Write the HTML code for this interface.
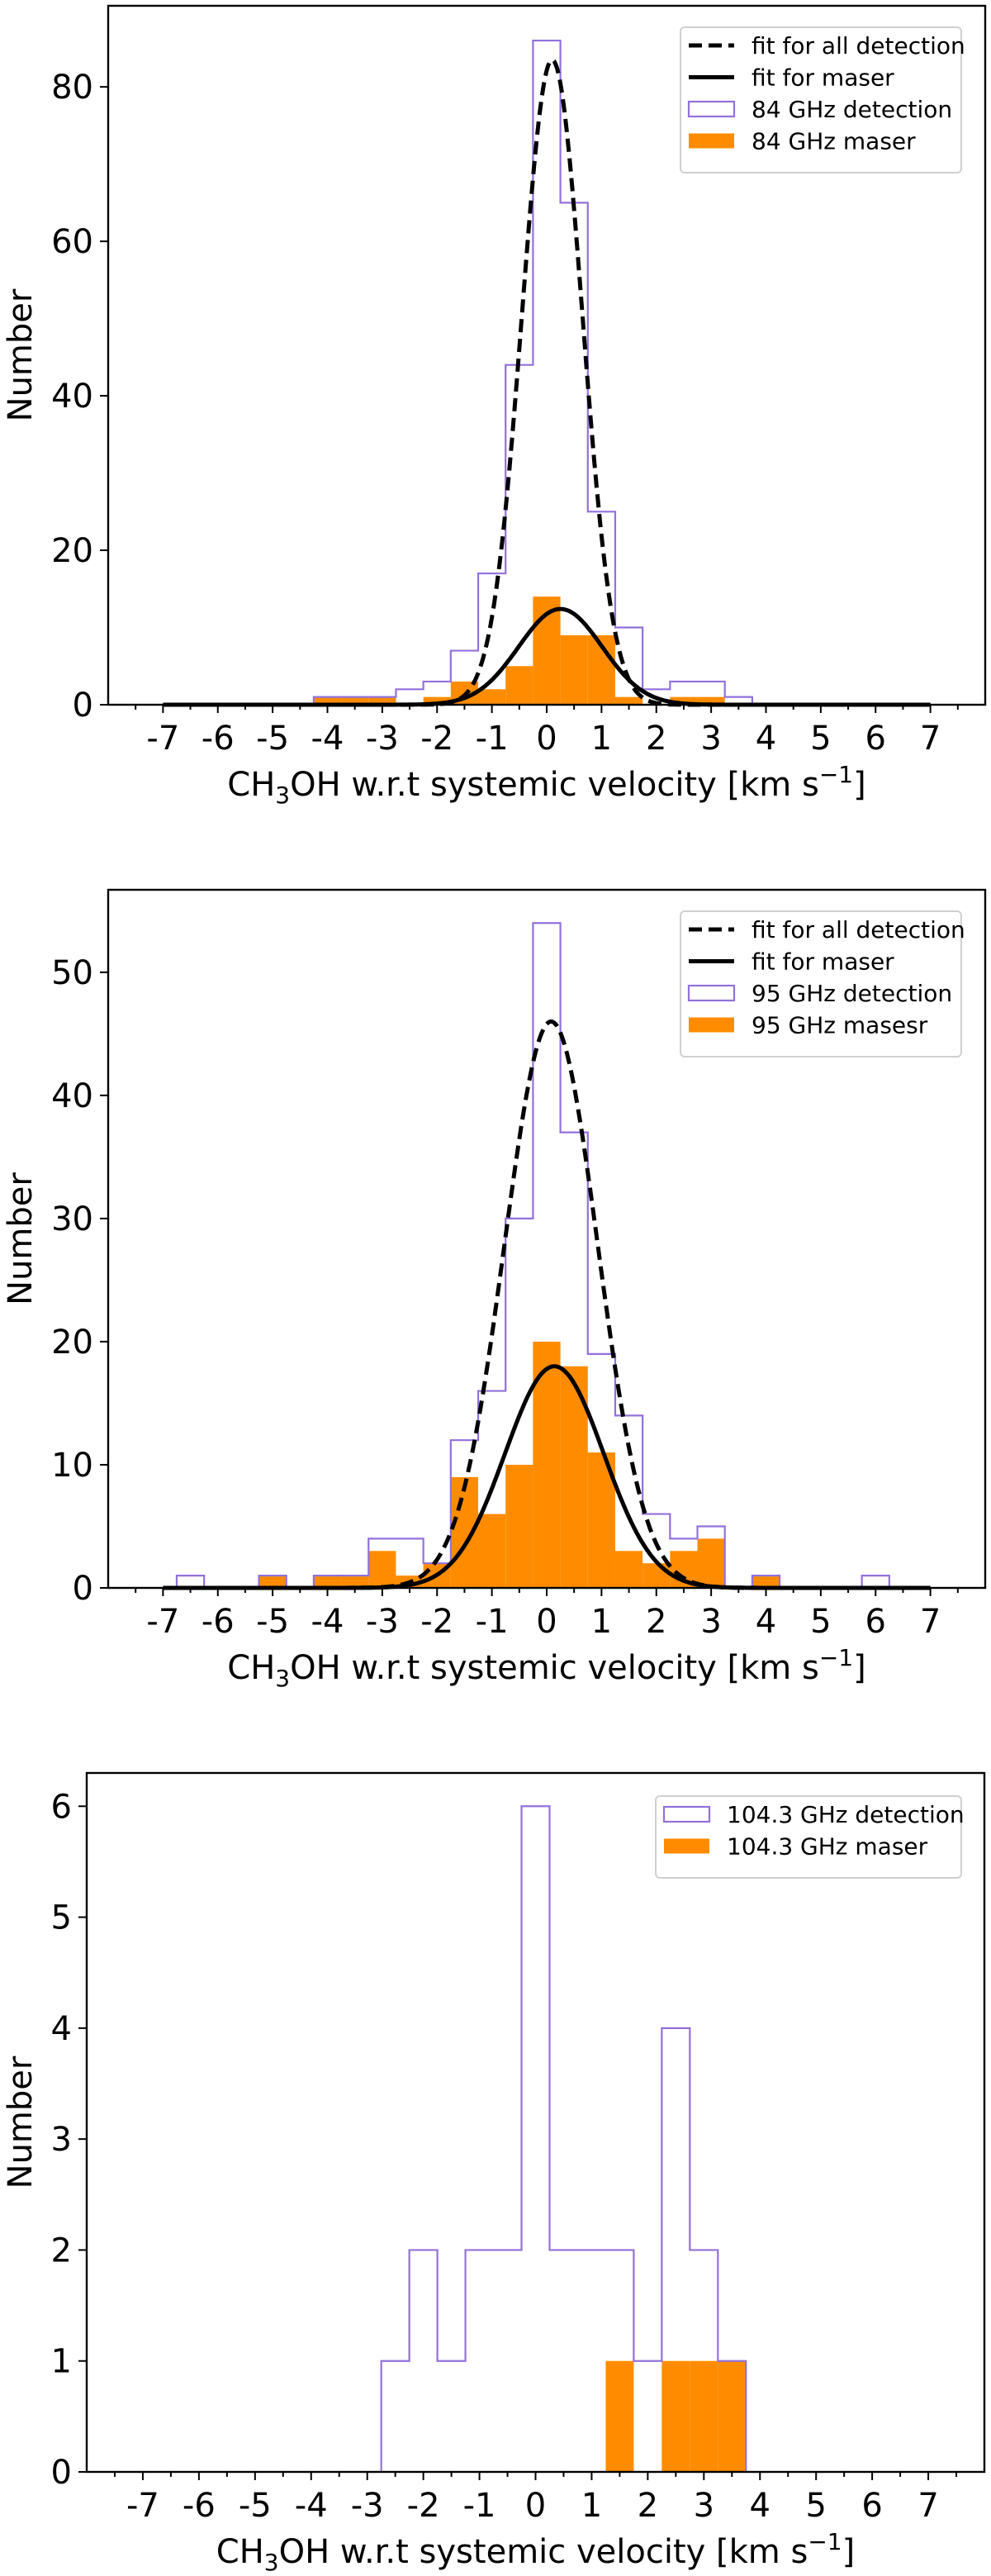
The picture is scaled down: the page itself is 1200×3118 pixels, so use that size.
<!DOCTYPE html>
<html><head><meta charset="utf-8">
<style>
html,body{margin:0;padding:0;background:#fff;}
svg{display:block;font-family:"DejaVu Sans","Liberation Sans",sans-serif;}
</style></head>
<body>
<svg id="fig" width="1200" height="3118" viewBox="0 0 1200 3118" xmlns="http://www.w3.org/2000/svg"></svg>
<script>
// ---- data ----
const xTicks = [-7,-6,-5,-4,-3,-2,-1,0,1,2,3,4,5,6,7];
const binWidth = 0.5;
// panel 1 (84 GHz)
const centers1 = [-4,-3.5,-3,-2.5,-2,-1.5,-1,-0.5,0,0.5,1,1.5,2,2.5,3,3.5];
const det1 = [1,1,1,2,3,7,17,44,86,65,25,10,2,3,3,1];
const mas1 = [1,1,1,0,1,3,2,5,14,9,9,1,0,1,1,0];
const fitAll1 = [83.5,0.1,0.55];   // amp, mu, sigma
const fitMas1 = [12.4,0.25,0.76];
const yTicks1 = [0,20,40,60,80];
// panel 2 (95 GHz)
const centers2 = [-6.5,-6,-5.5,-5,-4.5,-4,-3.5,-3,-2.5,-2,-1.5,-1,-0.5,0,0.5,1,1.5,2,2.5,3,3.5,4,4.5,5,5.5,6];
const det2 = [1,0,0,1,0,1,1,4,4,2,12,16,30,54,37,19,14,6,4,5,0,1,0,0,0,1];
const mas2 = [0,0,0,1,0,1,1,3,1,2,9,6,10,20,18,11,3,2,3,4,0,1,0,0,0,0];
const fitAll2 = [46,0.08,0.85];
const fitMas2 = [18,0.14,0.9];
const yTicks2 = [0,10,20,30,40,50];
// panel 3 (104.3 GHz)
const centers3 = [-2.5,-2,-1.5,-1,-0.5,0,0.5,1,1.5,2,2.5,3,3.5];
const det3 = [1,2,1,2,2,6,2,2,2,1,4,2,1];
const mas3 = [0,0,0,0,0,0,0,0,1,0,1,1,1];
const yTicks3 = [0,1,2,3,4,5,6];

const NS = "http://www.w3.org/2000/svg";
const fig = document.getElementById('fig');
function mk(tag, attrs, parent){
  const e = document.createElementNS(NS, tag);
  for (const k in attrs) e.setAttribute(k, attrs[k]);
  (parent||fig).appendChild(e);
  return e;
}

function panel(p){
  const g = mk('g', {});
  
  
  const X = v => p.L + (v - (-8)) / 16 * (p.R - p.L);
  const Y = v => p.B - v / p.ymax * (p.B - p.T);
  p.centers.forEach((c,i) => {
    if (p.mas[i] <= 0) return;
    const r = mk('rect', {x:X(c-binWidth/2), y:Y(p.mas[i]), width:X(c+binWidth/2)-X(c-binWidth/2), height:Y(0)-Y(p.mas[i]), fill:'#ff8c00'}, g);
    
    
  });
  let d = '';
  p.centers.forEach((c,i) => {
    const x0 = X(c-binWidth/2), x1 = X(c+binWidth/2), y = Y(p.det[i]);
    d += (i===0 ? `M${x0},${Y(0)}L${x0},${y}` : `L${x0},${y}`) + `L${x1},${y}`;
  });
  const last = p.centers[p.centers.length-1];
  d += `L${X(last+binWidth/2)},${Y(0)}`;
  const sp = mk('path', {d:d, fill:'none', stroke:'#9370db', 'stroke-width':2.2}, g);
  
  
  function gauss(f, dash, name){
    let s = '';
    for (let k=0;k<=600;k++){
      const v = -7 + 14*k/600;
      const y = f[0]*Math.exp(-((v-f[1])**2)/(2*f[2]*f[2]));
      s += (k? 'L':'M') + X(v).toFixed(1) + ',' + Y(y).toFixed(1);
    }
    const a = {d:s, fill:'none', stroke:'#000', 'stroke-width':5};
    if (dash) a['stroke-dasharray'] = '16,8';
    const e = mk('path', a, g);
    
    
  }
  if (p.fitAll) gauss(p.fitAll, true, 'fit-all-detection-curve');
  if (p.fitMas) gauss(p.fitMas, false, 'fit-maser-curve');
  const fr = mk('rect', {x:p.L, y:p.T, width:p.R-p.L, height:p.B-p.T, fill:'none', stroke:'#000', 'stroke-width':2.4}, g);
  
  
  for (let v=-7.5; v<=7.51; v+=0.5){
    const major = Math.abs(v - Math.round(v)) < 1e-6;
    mk('line', {x1:X(v), x2:X(v), y1:p.B, y2:p.B+(major?10:6), stroke:'#000', 'stroke-width':2}, g);
  }
  xTicks.forEach(v => {
    const t = mk('text', {x:X(v), y:p.B+54, 'font-size':40, 'text-anchor':'middle'}, g);
    t.textContent = String(v);
    
    
  });
  p.yTicks.forEach(v => {
    mk('line', {x1:p.L-10, x2:p.L, y1:Y(v), y2:Y(v), stroke:'#000', 'stroke-width':2}, g);
    const t = mk('text', {x:p.L-18, y:Y(v)+14, 'font-size':40, 'text-anchor':'end'}, g);
    t.textContent = String(v);
    
    
  });
  const xt = mk('text', {x:(p.L+p.R)/2, y:p.B+110, 'font-size':40, 'text-anchor':'middle'}, g);
  xt.innerHTML = 'CH<tspan font-size="28" dy="9">3</tspan><tspan dy="-9">OH w.r.t systemic velocity [km s</tspan><tspan font-size="28" dy="-16">−1</tspan><tspan dy="16">]</tspan>';
  
  
  const yt = mk('text', {x:0, y:0, 'font-size':40, 'text-anchor':'middle', transform:`translate(38,${(p.T+p.B)/2}) rotate(-90)`}, g);
  yt.textContent = 'Number';
  
  
  const lg = mk('g', {}, g);
  
  
  const lx = p.leg.x, ly = p.leg.y, n = p.leg.items.length;
  mk('rect', {x:lx, y:ly, width:p.leg.w, height:22+n*38.5, rx:5, fill:'#fff', stroke:'#d0d0d0', 'stroke-width':2}, lg);
  p.leg.items.forEach((it,i) => {
    const cy = ly + 22 + i*38.5;
    const hx = lx + 10;
    if (it.type==='dash') mk('line', {x1:hx, x2:hx+55, y1:cy, y2:cy, stroke:'#000', 'stroke-width':5, 'stroke-dasharray':'16,8'}, lg);
    if (it.type==='line') mk('line', {x1:hx, x2:hx+55, y1:cy, y2:cy, stroke:'#000', 'stroke-width':5}, lg);
    if (it.type==='step') mk('rect', {x:hx, y:cy-9, width:55, height:18, fill:'#fff', stroke:'#9370db', 'stroke-width':2.2}, lg);
    if (it.type==='fill') mk('rect', {x:hx, y:cy-9, width:55, height:18, fill:'#ff8c00'}, lg);
    const t = mk('text', {x:hx+76, y:cy+10, 'font-size':28}, lg);
    t.textContent = it.label;
    
    
  });
}

panel({name:'panel-84ghz', L:131, R:1193, T:7, B:853, ymax:90.5,
  centers:centers1, det:det1, mas:mas1, fitAll:fitAll1, fitMas:fitMas1, yTicks:yTicks1,
  leg:{x:824, y:33, w:340, items:[
    {type:'dash',label:'fit for all detection'},{type:'line',label:'fit for maser'},
    {type:'step',label:'84 GHz detection'},{type:'fill',label:'84 GHz maser'}]}});
panel({name:'panel-95ghz', L:131, R:1193, T:1077, B:1922, ymax:56.7,
  centers:centers2, det:det2, mas:mas2, fitAll:fitAll2, fitMas:fitMas2, yTicks:yTicks2,
  leg:{x:824, y:1103, w:340, items:[
    {type:'dash',label:'fit for all detection'},{type:'line',label:'fit for maser'},
    {type:'step',label:'95 GHz detection'},{type:'fill',label:'95 GHz masesr'}]}});
panel({name:'panel-104ghz', L:105, R:1192, T:2146, B:2992, ymax:6.3,
  centers:centers3, det:det3, mas:mas3, fitAll:null, fitMas:null, yTicks:yTicks3,
  leg:{x:794, y:2174, w:370, items:[
    {type:'step',label:'104.3 GHz detection'},{type:'fill',label:'104.3 GHz maser'}]}});
</script>
</body></html>
